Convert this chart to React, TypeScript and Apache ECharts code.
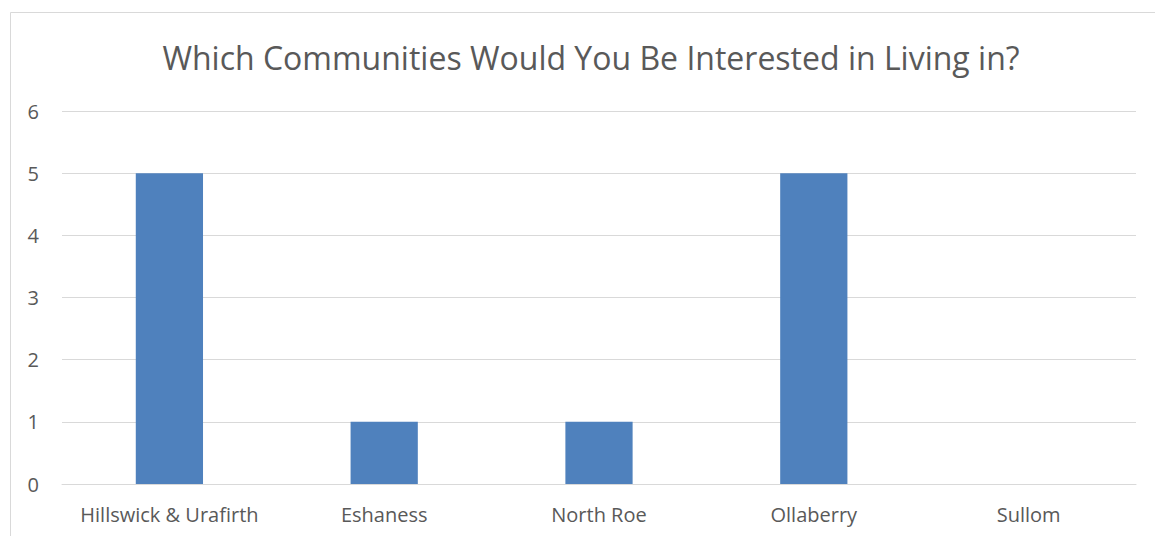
import React, { useEffect, useRef } from "react";
import * as echarts from "echarts";

const categories = ["Hillswick & Urafirth", "Eshaness", "North Roe", "Ollaberry", "Sullom"];
const values = [5, 1, 1, 5, 0];
const titleText = "Which Communities Would You Be Interested in Living in?";

export default function App() {
  const ref = useRef<HTMLDivElement>(null);
  useEffect(() => {
    document.body.style.margin = "0";
    const chart = echarts.init(ref.current!, null, { renderer: "svg" });
    chart.setOption({
      animation: false,
      backgroundColor: "#ffffff",
      textStyle: { fontFamily: "Open Sans" },
      title: {
        text: titleText,
        left: 586,
        textAlign: "center",
        top: 36,
        textStyle: { fontFamily: "Open Sans", fontSize: 32, fontWeight: "normal", color: "#595959" },
      },
      graphic: [
        {
          type: "rect",
          shape: { x: 10.5, y: 12.5, width: 1200, height: 600 },
          style: { fill: "none", stroke: "#d9d9d9", lineWidth: 1 },
          silent: true,
        },
      ],
      grid: { left: 62, right: 19, top: 111, bottom: 52, containLabel: false },
      xAxis: {
        type: "category",
        data: categories,
        axisLine: { show: true, lineStyle: { color: "#d9d9d9", width: 1 } },
        axisTick: { show: false },
        axisLabel: { color: "#595959", fontSize: 20, margin: 20, interval: 0, hideOverlap: false, fontFamily: "Open Sans" },
      },
      yAxis: {
        type: "value",
        min: 0,
        max: 6,
        interval: 1,
        axisLine: { show: false },
        axisTick: { show: false },
        splitLine: { lineStyle: { color: "#d9d9d9", width: 1 } },
        axisLabel: { color: "#595959", fontSize: 20, margin: 23, fontFamily: "Open Sans" },
      },
      series: [
        {
          type: "bar",
          data: values,
          barWidth: "31.3%",
          itemStyle: { color: "#4f81bd" },
        },
      ],
    });
    return () => chart.dispose();
  }, []);
  return <div ref={ref} style={{ width: 1155, height: 536 }} />;
}
